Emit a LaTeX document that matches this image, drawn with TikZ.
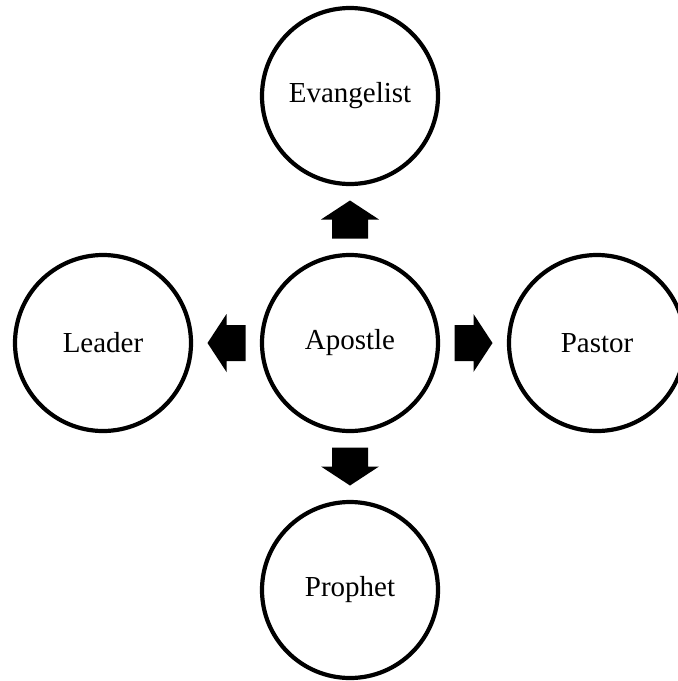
\documentclass[tikz,border=0pt]{standalone}
\usepackage{fontspec}
\setmainfont{Liberation Serif}
\usetikzlibrary{calc}
\begin{document}
\begin{tikzpicture}[x=1pt,y=-1pt,
  role/.style={circle, draw, line width=4.2pt, minimum size=176pt, inner sep=0pt,
    font=\fontsize{29}{33}\selectfont},
  blockarrow/.style={fill=black}]
\useasboundingbox (0,0) rectangle (678,681);
\clip (0,0) rectangle (678,681);
\node[role] (apostle)    at (350,343) {Apostle};
\node[role] (evangelist) at (350,96)  {Evangelist};
\node[role] (prophet)    at (350,590) {Prophet};
\node[role] (leader)     at (103,343) {Leader};
\node[role] (pastor)     at (597,343) {Pastor};
\foreach \target/\ang in {evangelist/90, pastor/0, prophet/-90, leader/180}{
  \coordinate (m-\target) at ($(apostle)!0.5!(\target)$);
  \begin{scope}[shift={(m-\target)}, rotate=\ang]
    \fill[blockarrow] (-19,-18) -- (0,-18) -- (0,-29) -- (19,0) -- (0,29) -- (0,18) -- (-19,18) -- cycle;
  \end{scope}
}
\end{tikzpicture}
\end{document}
